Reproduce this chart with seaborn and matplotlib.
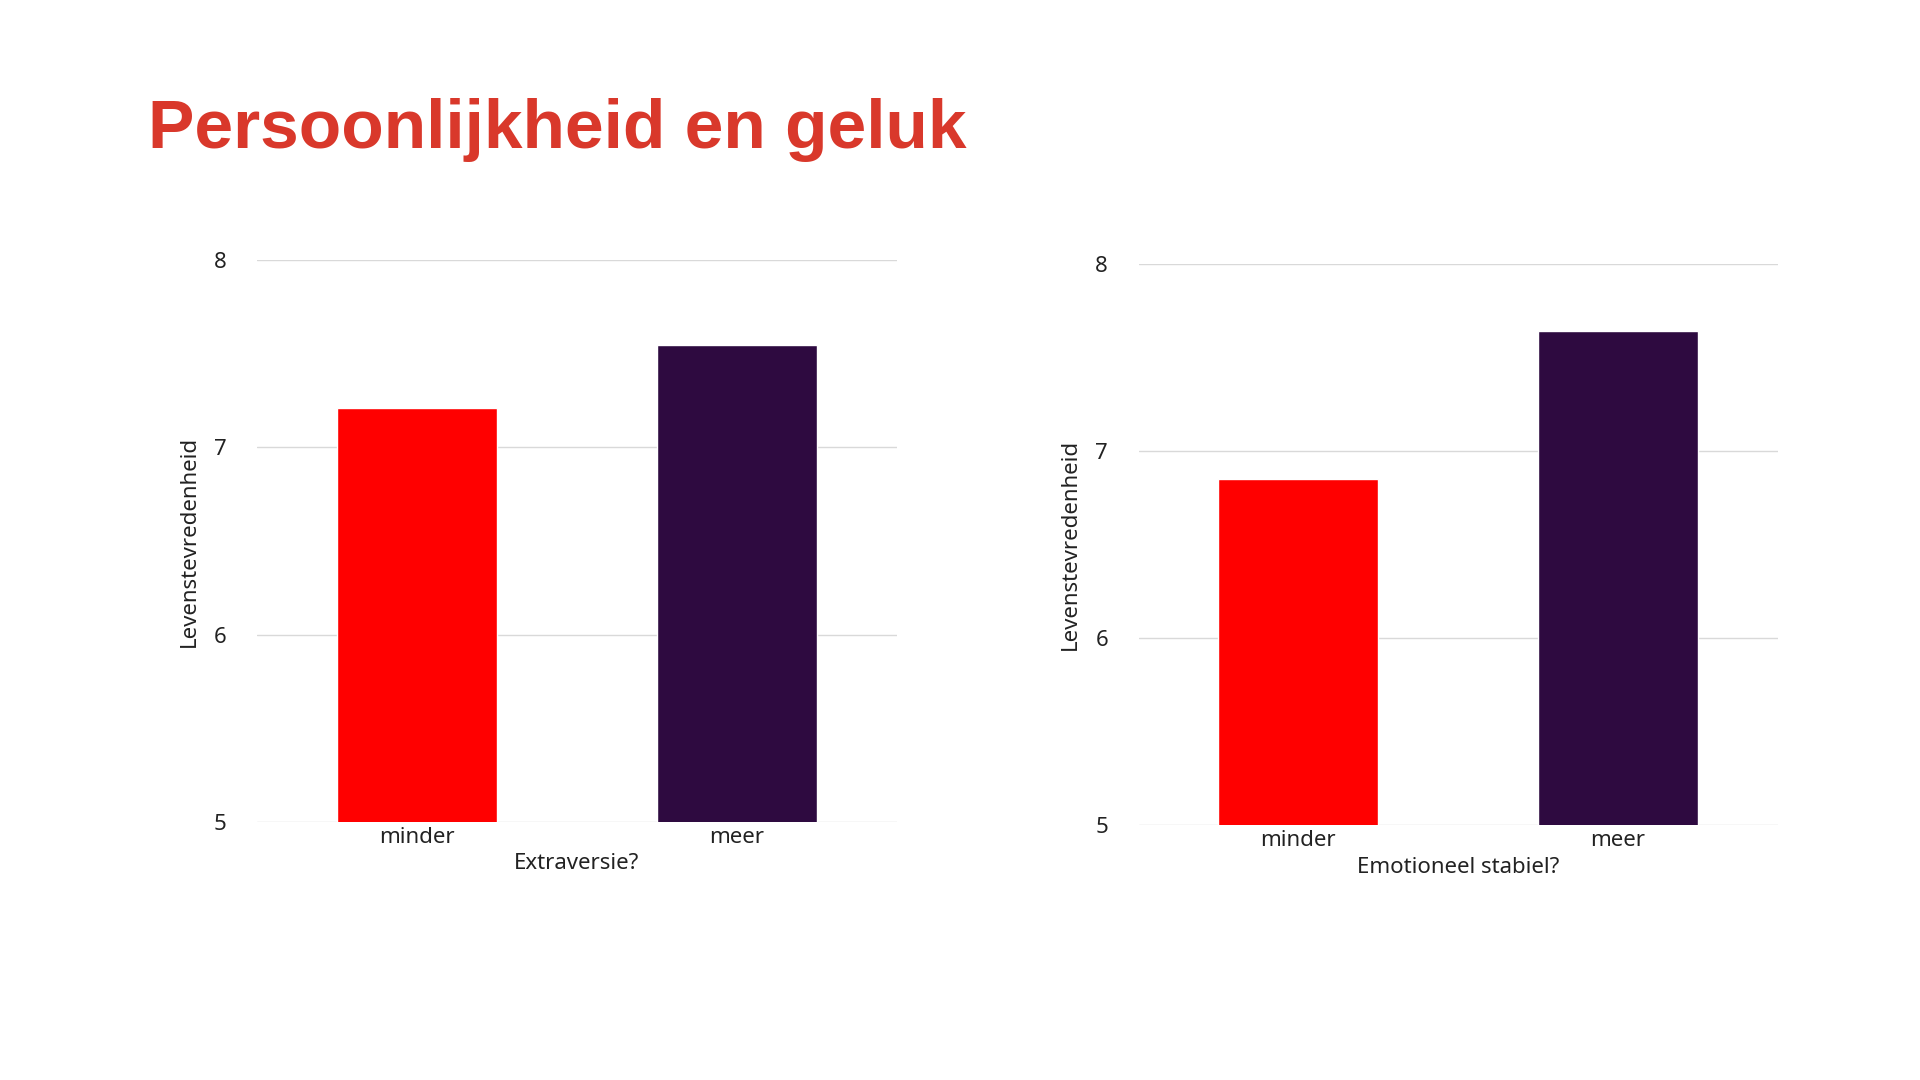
import matplotlib
matplotlib.use("Agg")
import matplotlib.pyplot as plt
import seaborn as sns
import pandas as pd

categories = ["minder", "meer"]
extraversie = [7.21, 7.55]
stabiel = [6.85, 7.64]
yticks = [5, 6, 7, 8]
colors = ["#FF0000", "#2E0A40"]

sns.set_theme(style="white")
plt.rcParams['font.family'] = ['Noto Sans', 'DejaVu Sans']

fig = plt.figure(figsize=(19.2, 10.8), dpi=100)
fig.text(0.077, 0.88, "Persoonlijkheid en geluk", color="#D9382B", fontsize=50,
         fontweight="bold", family=["Liberation Sans"], va="center")

panels = [
    ([0.134, 0.239, 0.333, 0.52], extraversie, "Extraversie?"),
    ([0.593, 0.236, 0.333, 0.52], stabiel, "Emotioneel stabiel?"),
]
for rect, vals, xlabel in panels:
    ax = fig.add_axes(rect)
    df = pd.DataFrame({"cat": categories, "val": vals})
    sns.barplot(data=df, x="cat", y="val", hue="cat", palette=colors, width=0.5,
                legend=False, ax=ax, zorder=3, saturation=1)
    ax.set_ylim(5, 8)
    ax.set_xlim(-0.5, 1.5)
    ax.set_yticks(yticks)
    ax.grid(axis="y", color="#D9D9D9", linewidth=1, zorder=0)
    for s in ax.spines.values():
        s.set_visible(False)
    ax.tick_params(axis="both", length=0, labelsize=16, colors="#222222")
    ax.tick_params(axis="y", pad=22)
    ax.set_xlabel(xlabel, fontsize=16, color="#222222", labelpad=4)
    ax.set_ylabel("Levenstevredenheid", fontsize=16, color="#222222", labelpad=10)

fig.savefig("out.png", dpi=100, facecolor="white")
